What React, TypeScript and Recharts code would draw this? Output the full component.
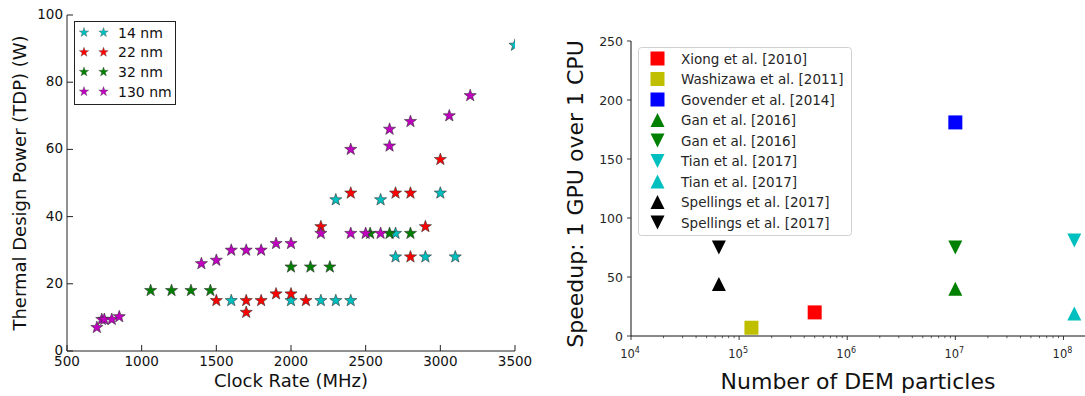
import React from 'react';
import { ScatterChart, Scatter, XAxis, YAxis } from 'recharts';

const FONT = '"DejaVu Sans", sans-serif';

// ---------------- Left chart data ----------------
const clock14 = [3500, 2300, 2600, 3000, 2700, 2700, 2900, 3100, 1600, 2000, 2200, 2300, 2400];
const tdp14 = [91, 45, 45, 47, 35, 28, 28, 28, 15, 15, 15, 15, 15];

const clock22 = [2400, 2700, 2800, 3000, 2200, 2900, 2800, 1500, 1700, 1700, 1800, 1900, 2000, 2100];
const tdp22 = [47, 47, 47, 57, 37, 37, 28, 15, 15, 11.5, 15, 17, 17, 15];

const clock32 = [1060, 1200, 1330, 1460, 2000, 2130, 2260, 2530, 2660, 2800];
const tdp32 = [18, 18, 18, 18, 25, 25, 25, 35, 35, 35];

const clock130 = [700, 733, 750, 800, 850, 1400, 1500, 1600, 1700, 1800, 1900, 2000, 2200, 2400, 2500, 2600, 2400, 2660, 2660, 2800, 3060, 3200];
const tdp130 = [7, 9.4, 9.4, 9.4, 10.2, 26, 27, 30, 30, 30, 32, 32, 35, 35, 35, 35, 60, 61, 66, 68.3, 70, 76];

const leftXTicks = [500, 1000, 1500, 2000, 2500, 3000, 3500];
const leftYTicks = [0, 20, 40, 60, 80, 100];

const leftSeries = [
  { name: '14 nm', color: '#00bfbf', xs: clock14, ys: tdp14 },
  { name: '22 nm', color: '#ff0000', xs: clock22, ys: tdp22 },
  { name: '32 nm', color: '#008000', xs: clock32, ys: tdp32 },
  { name: '130 nm', color: '#bf00bf', xs: clock130, ys: tdp130 },
];

// ---------------- Right chart data ----------------
const xiongN = [5e5];
const xiongS = [20];
const washizawaN = [1.3e5];
const washizawaS = [7];
const govenderN = [1e7];
const govenderS = [181];
const ganUpN = [1e7];
const ganUpS = [40];
const ganDownN = [1e7];
const ganDownS = [75];
const tianDownN = [1.26e8];
const tianDownS = [81];
const tianUpN = [1.26e8];
const tianUpS = [19];
const spellUpN = [6.5e4];
const spellUpS = [44];
const spellDownN = [6.5e4];
const spellDownS = [75];

const rightYTicks = [0, 50, 100, 150, 200, 250];
const rightDecades = [4, 5, 6, 7, 8];

const rightSeries = [
  { name: 'Xiong et al. [2010]', color: '#ff0000', marker: 'square', xs: xiongN, ys: xiongS },
  { name: 'Washizawa et al. [2011]', color: '#bfbf00', marker: 'square', xs: washizawaN, ys: washizawaS },
  { name: 'Govender et al. [2014]', color: '#0000ff', marker: 'square', xs: govenderN, ys: govenderS },
  { name: 'Gan et al. [2016]', color: '#008000', marker: 'up', xs: ganUpN, ys: ganUpS },
  { name: 'Gan et al. [2016]', color: '#008000', marker: 'down', xs: ganDownN, ys: ganDownS },
  { name: 'Tian et al. [2017]', color: '#00bfbf', marker: 'down', xs: tianDownN, ys: tianDownS },
  { name: 'Tian et al. [2017]', color: '#00bfbf', marker: 'up', xs: tianUpN, ys: tianUpS },
  { name: 'Spellings et al. [2017]', color: '#000000', marker: 'up', xs: spellUpN, ys: spellUpS },
  { name: 'Spellings et al. [2017]', color: '#000000', marker: 'down', xs: spellDownN, ys: spellDownS },
];

const rightXTicks: number[] = [];
rightDecades.forEach((d) => {
  for (let k = 1; k <= 9; k++) {
    const v = k * Math.pow(10, d);
    if (v <= 2e8) rightXTicks.push(v);
  }
});

// ---------------- layout ----------------
const L_MARGIN = { top: 15, right: 25, bottom: 0, left: 7 };
const L_W = 540;
const L_H = 396;
const L_YAXIS_W = 60;
const L_XAXIS_H = 45;
const L_PLOT = {
  x: L_MARGIN.left + L_YAXIS_W,
  y: L_MARGIN.top,
  w: L_W - L_MARGIN.left - L_YAXIS_W - L_MARGIN.right,
  h: L_H - L_MARGIN.top - L_MARGIN.bottom - L_XAXIS_H,
};

// ---------------- helpers ----------------
function starPoints(cx: number, cy: number, R: number, r: number) {
  const pts: string[] = [];
  for (let i = 0; i < 10; i++) {
    const ang = -Math.PI / 2 + (i * Math.PI) / 5;
    const rad = i % 2 === 0 ? R : r;
    pts.push(`${cx + rad * Math.cos(ang)},${cy + rad * Math.sin(ang)}`);
  }
  return pts.join(' ');
}

const makeStar = (color: string) => (props: any) => {
  const { cx, cy } = props;
  if (cx == null || cy == null) return <g />;
  return (
    <g clipPath="url(#leftPlotClip)">
      <polygon points={starPoints(cx, cy, 6.4, 2.6)} fill={color} stroke="#333" strokeWidth={0.6} />
    </g>
  );
};

function markerEl(marker: string, color: string, cx: number, cy: number, s: number) {
  const h = s / 2;
  if (marker === 'square') {
    return <rect x={cx - h} y={cy - h} width={s} height={s} fill={color} />;
  }
  if (marker === 'up') {
    return <polygon points={`${cx},${cy - h} ${cx - h},${cy + h} ${cx + h},${cy + h}`} fill={color} />;
  }
  return <polygon points={`${cx},${cy + h} ${cx - h},${cy - h} ${cx + h},${cy - h}`} fill={color} />;
}

const makeMarker = (marker: string, color: string) => (props: any) => {
  const { cx, cy } = props;
  if (cx == null || cy == null) return <g />;
  return markerEl(marker, color, cx, cy, 14);
};

const AX = '#222';

// left chart ticks (inward)
const LBottomTick = (props: any) => {
  const { x, y, payload } = props;
  return (
    <g>
      <line x1={x} y1={y} x2={x} y2={y - 6} stroke={AX} strokeWidth={1} />
      <text x={x} y={y + 15} textAnchor="middle" fontSize={13.5} fontFamily={FONT} fill="#111">
        {payload.value}
      </text>
    </g>
  );
};
const LLeftTick = (props: any) => {
  const { x, y, payload } = props;
  return (
    <g>
      <line x1={x} y1={y} x2={x + 6} y2={y} stroke={AX} strokeWidth={1} />
      <text x={x - 4} y={y + 4} textAnchor="end" fontSize={13.5} fontFamily={FONT} fill="#111">
        {payload.value}
      </text>
    </g>
  );
};
const LTopTick = (props: any) => {
  const { x, y } = props;
  return <line x1={x} y1={y} x2={x} y2={y + 6} stroke={AX} strokeWidth={1} />;
};
const LRightTick = (props: any) => {
  const { x, y } = props;
  return <line x1={x} y1={y} x2={x - 6} y2={y} stroke={AX} strokeWidth={1} />;
};

// right chart ticks (outward)
const RBottomTick = (props: any) => {
  const { x, y, payload } = props;
  const v = payload.value;
  const exp = Math.log10(v);
  const major = Math.abs(exp - Math.round(exp)) < 1e-9;
  if (!major) {
    return <line x1={x} y1={y} x2={x} y2={y + 2.2} stroke="#222" strokeWidth={0.7} />;
  }
  return (
    <g>
      <line x1={x} y1={y} x2={x} y2={y + 4} stroke="#222" strokeWidth={0.9} />
      <text x={x - 1} y={y + 22} textAnchor="middle" fontSize={11.5} fontFamily={FONT} fill="#262626">
        10
        <tspan fontSize={8} dy={-5}>{Math.round(exp)}</tspan>
      </text>
    </g>
  );
};
const RLeftTick = (props: any) => {
  const { x, y, payload } = props;
  return (
    <g>
      <line x1={x - 4} y1={y} x2={x} y2={y} stroke="#222" strokeWidth={0.9} />
      <text x={x - 8} y={y + 4.5} textAnchor="end" fontSize={12.5} fontFamily={FONT} fill="#262626">
        {payload.value}
      </text>
    </g>
  );
};

export default function App() {
  return (
    <div style={{ position: 'fixed', left: 0, top: 0, width: 1085, height: 396, overflow: 'hidden', background: '#fff' }}>
      <svg width={0} height={0} style={{ position: 'absolute' }}>
        <defs>
          <clipPath id="leftPlotClip" clipPathUnits="userSpaceOnUse">
            <rect x={L_PLOT.x} y={L_PLOT.y} width={L_PLOT.w} height={L_PLOT.h} />
          </clipPath>
        </defs>
      </svg>
      {/* ---------------- Left chart ---------------- */}
      <div style={{ position: 'absolute', left: 0, top: 0 }}>
        <ScatterChart width={L_W} height={L_H} margin={L_MARGIN}>
          <XAxis
            xAxisId="b"
            type="number"
            dataKey="x"
            domain={[500, 3500]}
            ticks={leftXTicks}
            allowDataOverflow
            height={L_XAXIS_H}
            tickSize={0}
            tickMargin={0}
            tickLine={false}
            axisLine={{ stroke: AX, strokeWidth: 1 }}
            tick={<LBottomTick />}
            label={{ content: () => (
              <text x={291} y={387} textAnchor="middle" fontSize={18} fontFamily={FONT} fill="#111">Clock Rate (MHz)</text>
            ) }}
          />
          <XAxis
            xAxisId="t"
            orientation="top"
            type="number"
            dataKey="x"
            domain={[500, 3500]}
            ticks={leftXTicks}
            allowDataOverflow
            height={0}
            tickSize={0}
            tickMargin={0}
            tickLine={false}
            axisLine={{ stroke: AX, strokeWidth: 1 }}
            tick={<LTopTick />}
          />
          <YAxis
            yAxisId="l"
            type="number"
            dataKey="y"
            domain={[0, 100]}
            ticks={leftYTicks}
            allowDataOverflow
            width={L_YAXIS_W}
            tickSize={0}
            tickMargin={0}
            tickLine={false}
            axisLine={{ stroke: AX, strokeWidth: 1 }}
            tick={<LLeftTick />}
            label={{ content: () => (
              <text x={26} y={183} transform="rotate(-90 26 183)" textAnchor="middle" fontSize={18} fontFamily={FONT} fill="#111">Thermal Design Power (TDP) (W)</text>
            ) }}
          />
          <YAxis
            yAxisId="r"
            orientation="right"
            type="number"
            dataKey="y"
            domain={[0, 100]}
            ticks={leftYTicks}
            allowDataOverflow
            width={0}
            tickSize={0}
            tickMargin={0}
            tickLine={false}
            axisLine={{ stroke: AX, strokeWidth: 1 }}
            tick={<LRightTick />}
          />
          {leftSeries.map((s) => (
            <Scatter
              key={s.name}
              name={s.name}
              xAxisId="b"
              yAxisId="l"
              data={s.xs.map((x, i) => ({ x, y: s.ys[i] }))}
              shape={makeStar(s.color)}
              isAnimationActive={false}
            />
          ))}
        </ScatterChart>
      </div>
      {/* left legend */}
      <svg style={{ position: 'absolute', left: 74, top: 21 }} width={103} height={85}>
        <rect x={0.5} y={0.5} width={101} height={83} fill="#fff" stroke="#222" strokeWidth={1} />
        {leftSeries.map((s, i) => {
          const cy = 11.5 + i * 19.7;
          return (
            <g key={s.name}>
              <polygon points={starPoints(10, cy, 5, 2)} fill={s.color} stroke="#555" strokeWidth={0.4} />
              <polygon points={starPoints(29.5, cy, 5, 2)} fill={s.color} stroke="#555" strokeWidth={0.4} />
              <text x={44} y={cy + 5} fontSize={14} fontFamily={FONT} fill="#111">{s.name}</text>
            </g>
          );
        })}
      </svg>

      {/* ---------------- Right chart ---------------- */}
      <div style={{ position: 'absolute', left: 560, top: 0 }}>
        <ScatterChart width={536} height={396} margin={{ top: 41, right: 0, bottom: 0, left: 0 }}>
          <XAxis
            xAxisId="b"
            type="number"
            dataKey="x"
            scale="log"
            domain={[1e4, 2e8]}
            ticks={rightXTicks}
            allowDataOverflow
            height={60}
            tickSize={0}
            tickMargin={0}
            tickLine={false}
            interval={0}
            axisLine={{ stroke: '#111', strokeWidth: 1 }}
            tick={<RBottomTick />}
            label={{ content: () => (
              <text x={298} y={389} textAnchor="middle" fontSize={22} fontFamily={FONT} fill="#111">Number of DEM particles</text>
            ) }}
          />
          <XAxis
            xAxisId="t"
            orientation="top"
            type="number"
            dataKey="x"
            scale="log"
            domain={[1e4, 2e8]}
            allowDataOverflow
            height={0}
            tick={false}
            tickLine={false}
            axisLine={{ stroke: '#111', strokeWidth: 1 }}
          />
          <YAxis
            yAxisId="l"
            type="number"
            dataKey="y"
            domain={[0, 250]}
            ticks={rightYTicks}
            allowDataOverflow
            width={71}
            tickSize={0}
            tickMargin={0}
            tickLine={false}
            interval={0}
            axisLine={{ stroke: '#111', strokeWidth: 1 }}
            tick={<RLeftTick />}
            label={{ content: () => (
              <text x={23} y={194} transform="rotate(-90 23 194)" textAnchor="middle" fontSize={22} fontFamily={FONT} fill="#111">Speedup: 1 GPU over 1 CPU</text>
            ) }}
          />
          {rightSeries.map((s, idx) => (
            <Scatter
              key={idx}
              name={s.name}
              xAxisId="b"
              yAxisId="l"
              data={s.xs.map((x, i) => ({ x, y: s.ys[i] }))}
              shape={makeMarker(s.marker, s.color)}
              isAnimationActive={false}
            />
          ))}
        </ScatterChart>
      </div>
      {/* right legend */}
      <svg style={{ position: 'absolute', left: 638, top: 47 }} width={215} height={190}>
        <rect x={0.5} y={0.5} width={213} height={188} rx={3} ry={3} fill="#fff" fillOpacity={0.8} stroke="#d0d0d0" strokeWidth={1} />
        {rightSeries.map((s, i) => {
          const cy = 11.5 + i * 20.5;
          return (
            <g key={i}>
              {markerEl(s.marker, s.color, 19.5, cy, 14)}
              <text x={43} y={cy + 5} fontSize={13.5} fontFamily={FONT} fill="#262626">{s.name}</text>
            </g>
          );
        })}
      </svg>
    </div>
  );
}
